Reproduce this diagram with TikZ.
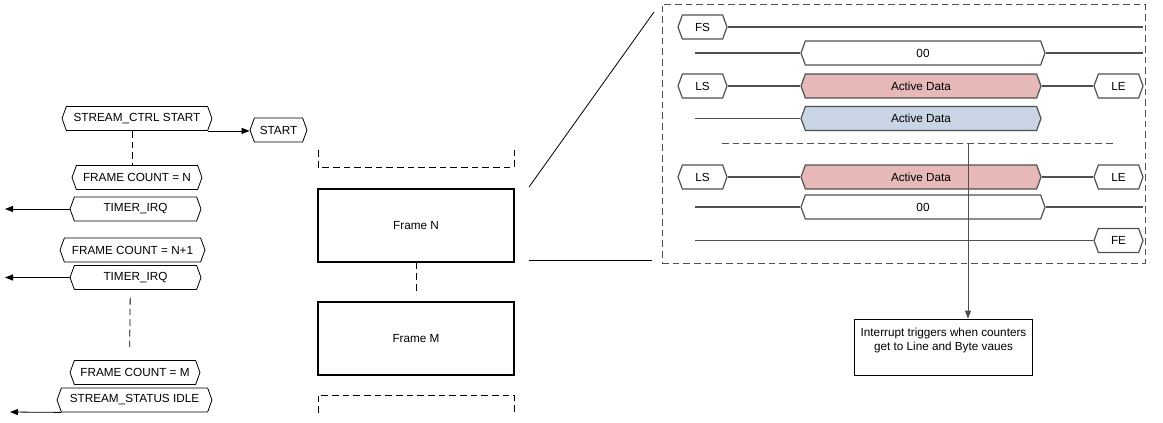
\documentclass[tikz,border=0pt]{standalone}
\usepackage{fontspec}
\setmainfont{Liberation Sans}
\usetikzlibrary{arrows.meta,shapes.symbols}

\definecolor{busred}{HTML}{E6B9B8}
\definecolor{busblue}{HTML}{C9D5E5}
\definecolor{wire}{HTML}{505050}

\begin{document}
\begin{tikzpicture}[
    x=0.75pt, y=-0.75pt,
    every node/.style={font=\fontsize{8.8}{10}\selectfont},
    tag/.style={signal, signal to=west and east, signal pointer angle=140, draw=black, line width=0.6pt, inner sep=0pt, minimum height=18pt},
    bus/.style={signal, signal to=west and east, signal pointer angle=140, draw=wire, line width=0.9pt, inner sep=0pt, minimum height=18pt, fill=white},
    framebox/.style={rectangle, draw=black, line width=1pt, minimum width=147pt, minimum height=54.75pt},
    wireline/.style={draw=wire, line width=0.9pt},
    dashline/.style={dash pattern=on 5pt off 3pt, line width=0.6pt},
    arrow/.style={-{Triangle[length=6pt,width=4.5pt]}, line width=0.6pt}
  ]
  \useasboundingbox (0,0) rectangle (1163,422);

  % control / status sequence
  \node[tag, minimum width=112.5pt] (sctrl) at (137,118.5) {STREAM\_CTRL START};
  \node[tag, minimum width=42.75pt] (start) at (278.5,130) {START};
  \node[tag, minimum width=97.5pt] (fcn) at (137,177.5) {FRAME COUNT = N};
  \node[tag, minimum width=98.25pt] (irqa) at (135.5,209) {TIMER\_IRQ};
  \node[tag, minimum width=108.75pt] (fcnn) at (132.5,250) {FRAME COUNT = N+1};
  \node[tag, minimum width=98.25pt] (irqb) at (135.5,277.5) {TIMER\_IRQ};
  \node[tag, minimum width=97.5pt] (fcm) at (135,372.5) {FRAME COUNT = M};
  \node[tag, minimum width=116.25pt] (idle) at (134.5,400) {STREAM\_STATUS IDLE};

  \coordinate (irqaout) at (5,209);
  \coordinate (irqbout) at (5,277.5);
  \coordinate (idleout) at (10,412);

  \draw[arrow] (sctrl.south east) -- (sctrl.south east -| start.west);
  \draw[arrow] (irqa.west) -- (irqaout);
  \draw[arrow] (irqb.west) -- (irqbout);
  \draw[arrow] (idle.south west) -- (idleout);
  \draw[dashline] ([xshift=-3.75pt]sctrl.south) -- ([xshift=-3.75pt]fcn.north);
  \draw[dashline] ([xshift=-4pt,yshift=-6pt]irqb.south) -- ([xshift=-4pt,yshift=7.5pt]fcm.north);

  % frames
  \node[framebox] (framen) at (416,225.5) {Frame N};
  \node[framebox] (framem) at (416,338.5) {Frame M};
  \draw[dashline] (framen.south) -- ([yshift=5pt]framem.north);
  \draw[dashline] (318,150) -- (318,167) -- (514,167) -- (514,150);
  \draw[dashline] (318,413) -- (318,395) -- (514,395) -- (514,413);

  % detail of one frame
  \node[draw=wire, dashline, minimum width=362.25pt, minimum height=194.25pt] (detail) at (903.5,133.5) {};
  \draw[line width=0.6pt] (529,187) -- (654,12);
  \draw[line width=0.6pt] (529,260) -- (652,260);

  \node[bus, minimum width=36.75pt] (fs) at (702.5,27) {FS};
  \draw[wireline] (fs.east) -- (1143,27);

  \node[bus, minimum width=183pt] (zeroa) at (923,53) {00};
  \draw[wireline] (695,53) -- (zeroa.west);
  \draw[wireline] (zeroa.east) -- (1143,53);

  \node[bus, minimum width=36.75pt] (lsa) at (702.5,86) {LS};
  \node[bus, fill=busred, minimum width=180pt] (acta) at (921,86) {Active Data};
  \node[bus, minimum width=36.75pt] (lea) at (1118.5,86) {LE};
  \draw[wireline] (lsa.east) -- (acta.west);
  \draw[wireline] (acta.east) -- (lea.west);

  \node[bus, fill=busblue, minimum width=180pt] (actb) at (921,118.5) {Active Data};
  \draw[wireline] (695,118.5) -- (actb.west);

  \draw[dashline, wire] (722,143) -- (1115,143);

  \node[bus, minimum width=36.75pt] (lsb) at (702.5,177) {LS};
  \node[bus, fill=busred, minimum width=180pt] (actc) at (921,177) {Active Data};
  \node[bus, minimum width=36.75pt] (leb) at (1118.5,177) {LE};
  \draw[wireline] (lsb.east) -- (actc.west);
  \draw[wireline] (actc.east) -- (leb.west);

  \node[bus, minimum width=183pt] (zerob) at (923,207) {00};
  \draw[wireline] (695,207) -- (zerob.west);
  \draw[wireline] (zerob.east) -- (1143,207);

  \node[bus, minimum width=36.75pt] (fe) at (1118.5,240.5) {FE};
  \draw[wireline] (695,240.5) -- (fe.west);

  % interrupt note
  \node[draw=black, line width=0.6pt, inner sep=3pt] (note) at (943.5,347)
    {\parbox[c][36pt][t]{128pt}{\vspace*{3.5pt}\centering\fontsize{8.8}{11}\selectfont Interrupt triggers when counters\\ get to Line and Byte vaues}};
  \coordinate (tap) at (968,143);
  \draw[arrow, draw=wire] (tap) -- (tap |- note.north);
\end{tikzpicture}
\end{document}
